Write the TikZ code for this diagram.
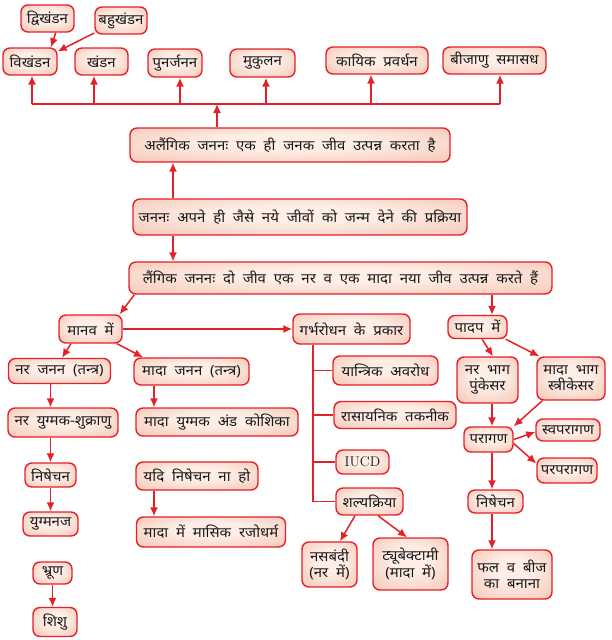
\documentclass[tikz,border=0pt]{standalone}
\usepackage{fontspec}
\newfontfamily\hindi[Script=Devanagari, WordSpace=2, FakeStretch=1.07]{Noto Sans}
\usetikzlibrary{arrows.meta, positioning, calc}
\definecolor{boxred}{RGB}{228,32,40}
\definecolor{boxpink}{RGB}{242,178,158}
\definecolor{boxlight}{RGB}{254,238,230}
\pgfdeclareradialshading{boxglow}{\pgfpoint{0bp}{6bp}}{color(0bp)=(boxlight); color(12bp)=(boxlight); color(50bp)=(boxpink)}

\begin{document}
\begin{tikzpicture}[
  x=1pt, y=-1pt,
  box/.style={draw=boxred, line width=1.4pt, rounded corners=7pt, inner sep=1pt,
    shading=boxglow, align=center, text=black!90,
    font=\hindi\fontsize{14}{16}\selectfont},
  arr/.style={draw=boxred, line width=1.5pt, -{Latex[length=9pt, width=8pt]}},
  link/.style={draw=boxred, line width=1.5pt}
]
  \useasboundingbox (0,0) rectangle (611,640);

  % asexual branch
  \node[box, minimum width=53, minimum height=27] (dvi) at (47.5,18.5) {द्विखंडन};
  \node[box, minimum width=52, minimum height=27] (bahu) at (121,20.5) {बहुखंडन};
  \node[box, minimum width=54, minimum height=27] (vikh) at (30,61.5) {विखंडन};
  \node[box, minimum width=53, minimum height=27] (khan) at (101.5,61.5) {खंडन};
  \node[box, minimum width=54, minimum height=28] (punar) at (175,63) {पुनर्जनन};
  \node[box, minimum width=65, minimum height=28] (mukul) at (262.5,63) {मुकुलन};
  \node[box, minimum width=102, minimum height=27] (kayik) at (377,60.5) {कायिक प्रवर्धन};
  \node[box, minimum width=103, minimum height=27] (bija) at (494.5,60.5) {बीजाणु समासध};
  \node[box, minimum width=320, minimum height=34] (aseks) at (290,145) {अलैंगिक जननः एक ही जनक जीव उत्पन्न करता है};
  \node[box, minimum width=334, minimum height=36] (janan) at (300,217) {जननः अपने ही जैसे नये जीवों को जन्म देने की प्रक्रिया};
  \node[box, minimum width=423, minimum height=32] (laing) at (340.5,278) {लैंगिक जननः दो जीव एक नर व एक मादा नया जीव उत्पन्न करते हैं};

  % human
  \node[box, minimum width=63, minimum height=28] (manav) at (90.5,329) {मानव में};
  \node[box, minimum width=102, minimum height=25] (narjan) at (59.5,371) {नर जनन (तन्त्र)};
  \node[box, minimum width=115, minimum height=27] (madajan) at (191.5,371.5) {मादा जनन (तन्त्र)};
  \node[box, minimum width=110, minimum height=29] (naryug) at (63,422.5) {नर युग्मक-शुक्राणु};
  \node[box, minimum width=162, minimum height=28] (madayug) at (217,422) {मादा युग्मक अंड कोशिका};
  \node[box, minimum width=51, minimum height=24] (nishL) at (50.5,475) {निषेचन};
  \node[box, minimum width=55, minimum height=24] (yugm) at (50.5,524) {युग्मनज};
  \node[box, minimum width=122, minimum height=28] (yadi) at (197,476) {यदि निषेचन ना हो};
  \node[box, minimum width=149, minimum height=30] (rajo) at (211,532) {मादा में मासिक रजोधर्म};
  \node[box, minimum width=39, minimum height=22] (bhrun) at (52.5,573) {भ्रूण};
  \node[box, minimum width=44, minimum height=29] (shishu) at (55,622) {शिशु};

  % contraception
  \node[box, minimum width=117, minimum height=30] (garbh) at (351.5,329) {गर्भरोधन के प्रकार};
  \node[box, minimum width=105, minimum height=29] (yantra) at (385.5,370.5) {यान्त्रिक अवरोध};
  \node[box, minimum width=122, minimum height=27] (rasa) at (395,415) {रासायनिक तकनीक};
  \node[box, minimum width=53, minimum height=24, font=\rmfamily\fontsize{14}{16}\selectfont] (iucd) at (362.5,462) {IUCD};
  \node[box, minimum width=67, minimum height=27] (shalya) at (369.5,501.5) {शल्यक्रिया};
  \node[box, minimum width=55, minimum height=45] (nasb) at (329.5,564.5) {नसबंदी\\(नर में)};
  \node[box, minimum width=75, minimum height=52] (tube) at (410.5,564) {ट्यूबेक्टामी\\(मादा में)};

  % plants
  \node[box, minimum width=59, minimum height=23] (padap) at (477.5,327) {पादप में};
  \node[box, minimum width=61, minimum height=46] (narbhag) at (487.5,380) {नर भाग\\पुंकेसर};
  \node[box, minimum width=68, minimum height=43] (madabhag) at (571,378.5) {मादा भाग\\स्त्रीकेसर};
  \node[box, minimum width=49, minimum height=25] (parag) at (488.5,439.5) {परागण};
  \node[box, minimum width=64, minimum height=22] (swapar) at (568,430) {स्वपरागण};
  \node[box, minimum width=60, minimum height=25] (parpar) at (567,470.5) {परपरागण};
  \node[box, minimum width=55, minimum height=23] (nishR) at (495.5,501.5) {निषेचन};
  \node[box, minimum width=80, minimum height=49] (phal) at (512,574.5) {फल व बीज\\का बनाना};

  \coordinate (bus) at (217,104);
  \coordinate (sp) at (173,0);
  \coordinate (ml) at (154,0);
  \coordinate (pr) at (492,0);
  \coordinate (tr) at ([xshift=-38.5pt]garbh.south);
  \coordinate (pt) at ([xshift=14.5pt]padap.north);

  \draw[arr] (dvi.-60) -- (vikh.34);
  \draw[arr] (bahu.205) -- (vikh.20);
  \draw[arr] (aseks.north -| bus) -- (bus);
  \draw[link] ($(bus -| vikh)+(2,0)$) -- ($(bus -| bija)+(5.5,0)$);
  \foreach \n/\dx in {vikh/2, khan/-7.5, punar/5, mukul/3.5, kayik/-6, bija/5.5}
    \draw[arr] ($(bus -| \n)+(\dx,0)$) -- ($(\n.south)+(\dx,0)$);
  \draw[arr] (janan.north -| sp) -- (aseks.south -| sp);
  \draw[arr] (janan.south -| sp) -- (laing.north -| sp);
  \draw[arr] ([xshift=6pt]laing.south west) -- ([xshift=-3pt]manav.north east);
  \draw[arr] (pt |- laing.south) -- (pt);
  \draw[arr] (manav) -- (garbh);

  \draw[arr] ([xshift=-19.5pt]manav.south) -- ([xshift=2.5pt]narjan.north);
  \draw[arr] ([xshift=26.5pt]manav.south) -- ([xshift=-48.5pt]madajan.north);
  \draw[arr] (narjan.south -| nishL) -- (naryug.north -| nishL);
  \draw[arr] (naryug.south -| nishL) -- (nishL);
  \draw[arr] (nishL) -- (yugm);
  \draw[arr] (bhrun.south) -- (bhrun.south |- shishu.north);
  \draw[arr] (madajan.south -| ml) -- (madayug.north -| ml);
  \draw[arr] (yadi.south -| ml) -- (rajo.north -| ml);

  \draw[link] (tr) |- (shalya.west);
  \foreach \n in {yantra, rasa, iucd}
    \draw[link] (tr |- \n) -- (\n.west);
  \draw[arr] ([xshift=-14.5pt]shalya.south) -- ([xshift=10.5pt]nasb.north);
  \draw[arr] ([xshift=8.5pt]shalya.south) -- ([xshift=-3.5pt]tube.north);

  \draw[arr] ([xshift=4.5pt]padap.south) -- ([xshift=5.5pt]narbhag.north);
  \draw[arr] ([xshift=-2pt]padap.south east) -- ([xshift=3pt]madabhag.north west);
  \draw[arr] (narbhag.south -| pr) -- (parag.north -| pr);
  \draw[arr] ([xshift=6pt]madabhag.south west) -- (parag.north east);
  \draw[arr] (parag.east) -- ([yshift=-2pt]swapar.west);
  \draw[arr] ([yshift=-4pt]parag.east) -- ([yshift=7pt]parpar.west);
  \draw[arr] (parag.south -| pr) -- (nishR.north -| pr);
  \draw[arr] (nishR.south -| pr) -- (phal.north -| pr);
\end{tikzpicture}
\end{document}
